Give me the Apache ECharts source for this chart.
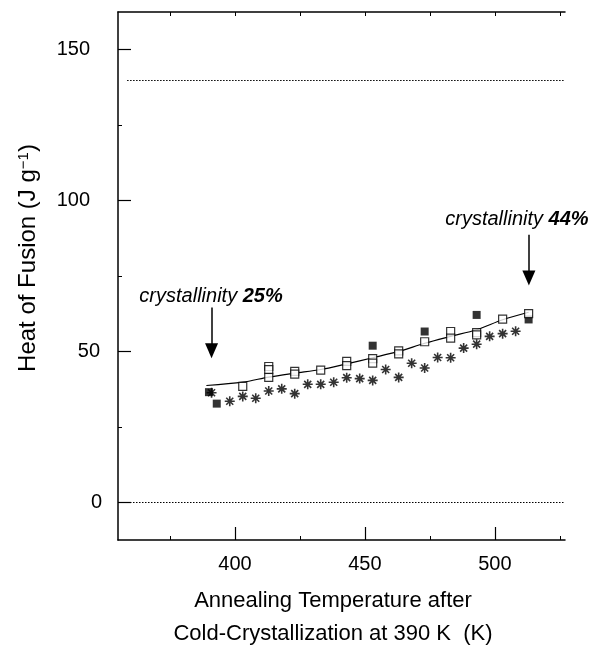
<!DOCTYPE html>
<html>
<head>
<meta charset="utf-8">
<script src="https://cdn.jsdelivr.net/npm/echarts@6/dist/echarts.min.js"></script>
<style>
  html, body { margin: 0; padding: 0; background: #fff; }
  #main { width: 604px; height: 645px; }
</style>
</head>
<body>
<div id="main"></div>
<script>
// filled squares
var filledX = [390, 393, 453, 473, 493, 513];
var filledY = [36.5, 32.7, 51.9, 56.6, 62.1, 60.6];
// open squares
var openX = [403, 413, 413, 413, 423, 423, 433, 443, 443, 453, 453, 463, 463, 473, 483, 483, 493, 493, 503, 513];
var openY = [38.4, 45.0, 44.0, 41.4, 43.4, 42.5, 43.8, 46.7, 45.3, 47.6, 46.1, 50.2, 49.2, 53.2, 56.6, 54.4, 56.2, 55.5, 60.7, 62.5];
// asterisks
var starX = [391, 398, 403, 408, 413, 418, 423, 428, 433, 438, 443, 448, 453, 458, 463, 468, 473, 478, 483, 488, 493, 498, 503, 508];
var starY = [36.3, 33.5, 35.1, 34.5, 36.9, 37.6, 36.0, 39.1, 39.1, 39.8, 41.3, 41.0, 40.4, 44.0, 41.4, 46.1, 44.5, 48.0, 47.9, 51.1, 52.4, 55.0, 55.9, 56.7];
// fitted curve
var fitX = [389, 403, 413, 423, 433, 443, 453, 463, 473, 483, 493, 503, 513];
var fitY = [38.7, 39.8, 41.5, 42.8, 44.0, 45.9, 47.9, 50.0, 52.7, 55.0, 57.2, 60.5, 63.0];
// reference levels (dotted)
var refLevels = [140, 0];
// tick labels
var xTicks = [400, 450, 500];
var xMinor = [375, 425, 475, 525];
var yTicks = [0, 50, 100, 150];
var yMinor = [25, 75, 125];

function zip(xs, ys) {
  return xs.map(function (x, i) { return [x, ys[i]]; });
}

var font = 'Liberation Sans';
var black = '#000';
var asterisk = 'path://M0 5L10 5M5 0L5 10M1.5 1.5L8.5 8.5M8.5 1.5L1.5 8.5';

var myChart = echarts.init(document.getElementById('main'));

var option = {
  animation: false,
  backgroundColor: '#fff',
  grid: { left: 118, top: 12, right: 39, bottom: 105 },
  xAxis: [{
    type: 'value', min: 355, max: 527, position: 'bottom',
    axisLine: { onZero: false, lineStyle: { color: black, width: 1.5 } },
    axisTick: { inside: true, length: 13, customValues: xTicks, lineStyle: { color: black, width: 1.2 } },
    axisLabel: { customValues: xTicks, color: black, fontSize: 20, fontFamily: font, margin: 14 },
    splitLine: { show: false }
  }, {
    type: 'value', min: 355, max: 527, position: 'bottom',
    axisLine: { show: false, onZero: false },
    axisTick: { inside: true, length: 4, customValues: xMinor, lineStyle: { color: black } },
    axisLabel: { show: false },
    splitLine: { show: false }
  }, {
    type: 'value', min: 355, max: 527, position: 'top',
    axisLine: { onZero: false, lineStyle: { color: black, width: 1.5 } },
    axisTick: { inside: true, length: 4, customValues: xMinor.concat(xTicks), lineStyle: { color: black } },
    axisLabel: { show: false },
    splitLine: { show: false }
  }],
  yAxis: [{
    type: 'value', min: -12.5, max: 162.5, position: 'left',
    axisLine: { show: true, onZero: false, lineStyle: { color: black, width: 1.5 } },
    axisTick: { show: true, inside: true, length: 13, customValues: yTicks, lineStyle: { color: black, width: 1.2 } },
    axisLabel: {
      customValues: yTicks, color: black, fontSize: 20, fontFamily: font, margin: 16,
      formatter: function (v) {
        if (v >= 100) return '{p|' + v + '}';
        if (v === 50) return '{q|' + v + '}';
        return '{r|' + v + '}';
      },
      rich: {
        p: { fontSize: 20, fontFamily: font, color: black, padding: [0, 12, 0, 0] },
        q: { fontSize: 20, fontFamily: font, color: black, padding: [0, 2, 0, 0] },
        r: { fontSize: 20, fontFamily: font, color: black }
      }
    },
    splitLine: { show: false }
  }, {
    type: 'value', min: -12.5, max: 162.5, position: 'left',
    axisLine: { show: false, onZero: false },
    axisTick: { show: true, inside: true, length: 4, customValues: yMinor, lineStyle: { color: black } },
    axisLabel: { show: false },
    splitLine: { show: false }
  }],
  graphic: [{
    type: 'text', x: 28, y: 258, rotation: Math.PI / 2,
    style: {
      text: '{a|Heat of Fusion (J g}{s|\u22121}{a|)}',
      align: 'center', verticalAlign: 'middle',
      rich: {
        a: { fontSize: 24, fontFamily: font, fill: black },
        s: { fontSize: 15, fontFamily: font, fill: black, verticalAlign: 'top' }
      }
    }
  }, {
    type: 'text', x: 333, y: 601,
    style: { text: 'Annealing Temperature after', fontSize: 22, fontFamily: font, fill: black, align: 'center', verticalAlign: 'middle' }
  }, {
    type: 'text', x: 333, y: 634,
    style: { text: 'Cold-Crystallization at 390 K  (K)', fontSize: 22, fontFamily: font, fill: black, align: 'center', verticalAlign: 'middle' }
  }],
  series: [{
    name: 'fit', type: 'line', data: zip(fitX, fitY), showSymbol: false, smooth: 0.3,
    lineStyle: { color: black, width: 1.2 }, z: 2
  }, {
    name: 'filled', type: 'scatter', data: zip(filledX, filledY), symbol: 'rect', symbolSize: 8,
    itemStyle: { color: black }, z: 3
  }, {
    name: 'open', type: 'scatter', data: zip(openX, openY), symbol: 'rect', symbolSize: 8,
    itemStyle: { color: '#fff', borderColor: black, borderWidth: 1.2 }, z: 4
  }, {
    name: 'star', type: 'scatter', data: zip(starX, starY), symbol: asterisk, symbolSize: 10,
    itemStyle: { color: 'none', borderColor: black, borderWidth: 1.6 }, z: 3
  }, {
    name: 'notes', type: 'scatter', data: [], silent: true,
    markLine: {
      silent: true, animation: false, symbol: 'none',
      label: { show: false },
      lineStyle: { color: black, width: 1, type: [1.5, 1.5] },
      data: [
        [{ coord: [358.5, refLevels[0]] }, { coord: [527, refLevels[0]] }],
        [{ coord: [355, refLevels[1]] }, { coord: [527, refLevels[1]] }],
        [{ coord: [391, 64.6], symbol: 'none', lineStyle: { type: 'solid', width: 1.5 } },
         { coord: [391, 50.2], symbol: 'triangle', symbolSize: [13, 15], lineStyle: { type: 'solid', width: 1.5 } }],
        [{ coord: [513.1, 88.7], symbol: 'none', lineStyle: { type: 'solid', width: 1.5 } },
         { coord: [513.1, 74.3], symbol: 'triangle', symbolSize: [13, 15], lineStyle: { type: 'solid', width: 1.5 } }]
      ]
    },
    markPoint: {
      silent: true, symbol: 'rect', symbolSize: 0, animation: false,
      label: {
        show: true, position: 'inside', color: black,
        rich: {
          a: { fontSize: 20, fontFamily: font, fontStyle: 'italic', color: black },
          b: { fontSize: 20, fontFamily: font, fontStyle: 'italic', fontWeight: 'bold', color: black }
        }
      },
      data: [
        { coord: [390.8, 68.2], label: { formatter: '{a|crystallinity }{b|25%}' } },
        { coord: [508.5, 93.7], label: { formatter: '{a|crystallinity }{b|44%}' } }
      ]
    }
  }]
};

myChart.setOption(option);
</script>
</body>
</html>
